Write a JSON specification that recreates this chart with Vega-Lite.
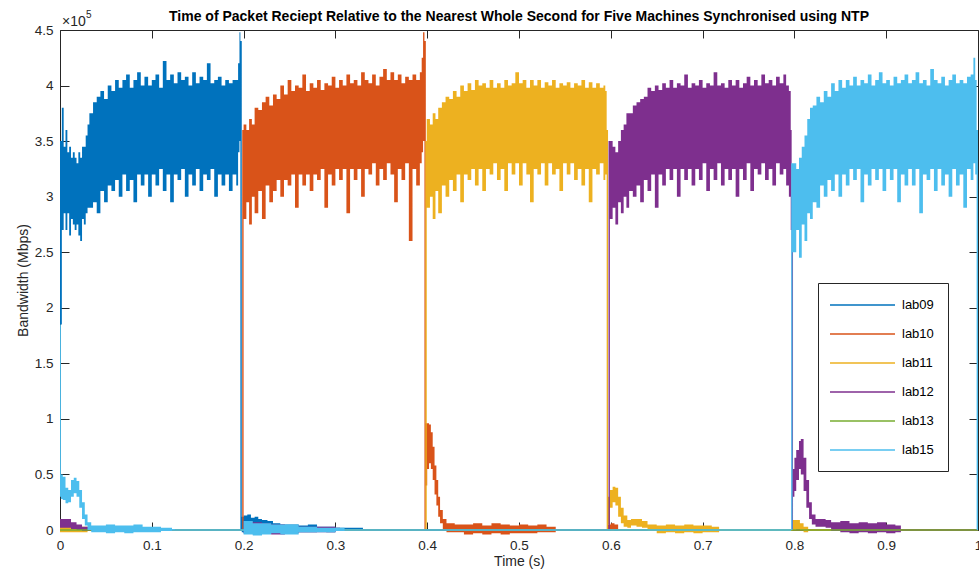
{
"$schema":"https://vega.github.io/schema/vega-lite/v6.json",
"width":918,"height":500,
"autosize":{"type":"none"},
"padding":{"left":60,"top":30,"right":1,"bottom":44},
"background":"white",
"title":{"text":"Time of Packet Reciept Relative to the Nearest Whole Second for Five Machines Synchronised using NTP","font":"Liberation Sans","fontSize":14,"fontWeight":"bold","color":"black","anchor":"middle","baseline":"alphabetic","offset":-25},
"config":{"view":{"stroke":null},"axis":{"domainColor":"#262626","tickColor":"#262626","labelColor":"#262626","titleColor":"#262626","labelFont":"Liberation Sans","titleFont":"Liberation Sans","labelFontSize":13.5,"titleFontSize":14,"titleFontWeight":"normal","grid":false,"domainWidth":1,"tickWidth":1}},
"data":{"values":[
{"m":"lab09","t":0,"lo":1.85,"hi":3.5},{"m":"lab09","t":0.002,"lo":2.7,"hi":3.8},{"m":"lab09","t":0.004,"lo":2.85,"hi":3.45},{"m":"lab09","t":0.006,"lo":2.7,"hi":3.6},{"m":"lab09","t":0.008,"lo":2.85,"hi":3.4},{"m":"lab09","t":0.01,"lo":2.65,"hi":3.45},{"m":"lab09","t":0.012,"lo":2.8,"hi":3.35},{"m":"lab09","t":0.014,"lo":2.75,"hi":3.4},{"m":"lab09","t":0.016,"lo":2.7,"hi":3.35},{"m":"lab09","t":0.018,"lo":2.75,"hi":3.3},{"m":"lab09","t":0.02,"lo":2.65,"hi":3.4},{"m":"lab09","t":0.022,"lo":2.6,"hi":3.35},{"m":"lab09","t":0.024,"lo":2.8,"hi":3.45},{"m":"lab09","t":0.026,"lo":2.75,"hi":3.45},{"m":"lab09","t":0.028,"lo":2.85,"hi":3.55},{"m":"lab09","t":0.03,"lo":2.9,"hi":3.65},{"m":"lab09","t":0.032,"lo":2.9,"hi":3.75},{"m":"lab09","t":0.036,"lo":2.95,"hi":3.85},{"m":"lab09","t":0.04,"lo":2.85,"hi":3.9},{"m":"lab09","t":0.044,"lo":3.05,"hi":3.95},{"m":"lab09","t":0.048,"lo":2.95,"hi":3.88},{"m":"lab09","t":0.052,"lo":3.1,"hi":4.0},{"m":"lab09","t":0.056,"lo":3.05,"hi":3.95},{"m":"lab09","t":0.06,"lo":3.15,"hi":4.05},{"m":"lab09","t":0.064,"lo":3.0,"hi":3.98},{"m":"lab09","t":0.068,"lo":3.2,"hi":4.05},{"m":"lab09","t":0.072,"lo":3.05,"hi":4.1},{"m":"lab09","t":0.076,"lo":3.15,"hi":3.98},{"m":"lab09","t":0.08,"lo":2.95,"hi":4.05},{"m":"lab09","t":0.084,"lo":3.2,"hi":4.12},{"m":"lab09","t":0.088,"lo":3.1,"hi":4.0},{"m":"lab09","t":0.092,"lo":3.2,"hi":4.08},{"m":"lab09","t":0.096,"lo":3.0,"hi":4.0},{"m":"lab09","t":0.1,"lo":3.2,"hi":4.05},{"m":"lab09","t":0.104,"lo":3.1,"hi":4.1},{"m":"lab09","t":0.108,"lo":3.25,"hi":3.98},{"m":"lab09","t":0.112,"lo":3.05,"hi":4.22},{"m":"lab09","t":0.116,"lo":3.2,"hi":4.05},{"m":"lab09","t":0.12,"lo":2.95,"hi":4.1},{"m":"lab09","t":0.124,"lo":3.2,"hi":4.02},{"m":"lab09","t":0.128,"lo":3.15,"hi":4.12},{"m":"lab09","t":0.132,"lo":3.25,"hi":4.05},{"m":"lab09","t":0.136,"lo":3.0,"hi":4.08},{"m":"lab09","t":0.14,"lo":3.2,"hi":4.0},{"m":"lab09","t":0.144,"lo":3.1,"hi":4.12},{"m":"lab09","t":0.148,"lo":3.25,"hi":4.02},{"m":"lab09","t":0.152,"lo":3.05,"hi":4.08},{"m":"lab09","t":0.156,"lo":3.2,"hi":4.05},{"m":"lab09","t":0.16,"lo":3.15,"hi":4.2},{"m":"lab09","t":0.164,"lo":3.25,"hi":4.02},{"m":"lab09","t":0.168,"lo":3.0,"hi":4.05},{"m":"lab09","t":0.172,"lo":3.2,"hi":4.08},{"m":"lab09","t":0.176,"lo":3.1,"hi":4.0},{"m":"lab09","t":0.18,"lo":3.2,"hi":4.05},{"m":"lab09","t":0.184,"lo":3.05,"hi":4.02},{"m":"lab09","t":0.188,"lo":3.2,"hi":4.05},{"m":"lab09","t":0.192,"lo":3.1,"hi":4.05},{"m":"lab09","t":0.194,"lo":3.4,"hi":4.2},{"m":"lab09","t":0.1955,"lo":3.5,"hi":4.48},{"m":"lab09","t":0.1965,"lo":0,"hi":4.4},{"m":"lab09","t":0.198,"lo":-0.02,"hi":0.12},{"m":"lab09","t":0.2,"lo":-0.03,"hi":0.13},{"m":"lab09","t":0.204,"lo":-0.02,"hi":0.14},{"m":"lab09","t":0.208,"lo":-0.03,"hi":0.11},{"m":"lab09","t":0.212,"lo":-0.02,"hi":0.12},{"m":"lab09","t":0.216,"lo":-0.03,"hi":0.1},{"m":"lab09","t":0.22,"lo":-0.02,"hi":0.09},{"m":"lab09","t":0.226,"lo":-0.03,"hi":0.08},{"m":"lab09","t":0.232,"lo":-0.02,"hi":0.06},{"m":"lab09","t":0.24,"lo":-0.03,"hi":0.05},{"m":"lab09","t":0.25,"lo":-0.02,"hi":0.05},{"m":"lab09","t":0.26,"lo":-0.02,"hi":0.04},{"m":"lab09","t":0.27,"lo":-0.02,"hi":0.05},{"m":"lab09","t":0.28,"lo":-0.01,"hi":0.03},{"m":"lab09","t":0.29,"lo":-0.02,"hi":0.03},{"m":"lab09","t":0.3,"lo":-0.01,"hi":0.02},{"m":"lab09","t":0.315,"lo":-0.01,"hi":0.02},{"m":"lab09","t":0.33,"lo":-0.006,"hi":0.006},{"m":"lab09","t":1,"lo":-0.006,"hi":0.006},
{"m":"lab10","t":0,"lo":-0.006,"hi":0.006},{"m":"lab10","t":0.1985,"lo":0,"hi":3.6},{"m":"lab10","t":0.2,"lo":2.8,"hi":3.65},{"m":"lab10","t":0.203,"lo":2.95,"hi":3.6},{"m":"lab10","t":0.206,"lo":2.75,"hi":3.7},{"m":"lab10","t":0.209,"lo":3.0,"hi":3.65},{"m":"lab10","t":0.212,"lo":2.85,"hi":3.8},{"m":"lab10","t":0.216,"lo":3.05,"hi":3.78},{"m":"lab10","t":0.22,"lo":2.8,"hi":3.85},{"m":"lab10","t":0.224,"lo":3.1,"hi":3.9},{"m":"lab10","t":0.228,"lo":2.95,"hi":3.82},{"m":"lab10","t":0.232,"lo":3.05,"hi":3.92},{"m":"lab10","t":0.236,"lo":3.15,"hi":3.88},{"m":"lab10","t":0.24,"lo":3.0,"hi":4.0},{"m":"lab10","t":0.244,"lo":3.15,"hi":3.92},{"m":"lab10","t":0.248,"lo":3.1,"hi":4.05},{"m":"lab10","t":0.252,"lo":3.2,"hi":3.95},{"m":"lab10","t":0.256,"lo":2.9,"hi":4.0},{"m":"lab10","t":0.26,"lo":3.2,"hi":3.98},{"m":"lab10","t":0.264,"lo":3.1,"hi":4.1},{"m":"lab10","t":0.268,"lo":3.2,"hi":3.95},{"m":"lab10","t":0.272,"lo":3.05,"hi":4.02},{"m":"lab10","t":0.276,"lo":3.2,"hi":3.98},{"m":"lab10","t":0.28,"lo":3.15,"hi":4.05},{"m":"lab10","t":0.284,"lo":3.25,"hi":3.96},{"m":"lab10","t":0.288,"lo":2.9,"hi":4.02},{"m":"lab10","t":0.292,"lo":3.2,"hi":4.0},{"m":"lab10","t":0.296,"lo":3.1,"hi":4.08},{"m":"lab10","t":0.3,"lo":3.25,"hi":3.98},{"m":"lab10","t":0.304,"lo":3.15,"hi":4.05},{"m":"lab10","t":0.308,"lo":3.25,"hi":4.0},{"m":"lab10","t":0.312,"lo":2.85,"hi":4.1},{"m":"lab10","t":0.316,"lo":3.25,"hi":4.02},{"m":"lab10","t":0.32,"lo":3.15,"hi":4.05},{"m":"lab10","t":0.324,"lo":3.25,"hi":4.0},{"m":"lab10","t":0.328,"lo":3.0,"hi":4.12},{"m":"lab10","t":0.332,"lo":3.25,"hi":4.05},{"m":"lab10","t":0.336,"lo":3.2,"hi":4.02},{"m":"lab10","t":0.34,"lo":3.3,"hi":4.1},{"m":"lab10","t":0.344,"lo":3.1,"hi":4.0},{"m":"lab10","t":0.348,"lo":3.25,"hi":4.08},{"m":"lab10","t":0.352,"lo":3.15,"hi":4.15},{"m":"lab10","t":0.356,"lo":3.3,"hi":4.05},{"m":"lab10","t":0.36,"lo":3.2,"hi":4.12},{"m":"lab10","t":0.364,"lo":2.95,"hi":4.05},{"m":"lab10","t":0.368,"lo":3.25,"hi":4.1},{"m":"lab10","t":0.372,"lo":3.15,"hi":4.02},{"m":"lab10","t":0.376,"lo":3.3,"hi":4.08},{"m":"lab10","t":0.38,"lo":2.6,"hi":4.05},{"m":"lab10","t":0.384,"lo":3.25,"hi":4.1},{"m":"lab10","t":0.388,"lo":3.1,"hi":4.05},{"m":"lab10","t":0.392,"lo":3.3,"hi":4.12},{"m":"lab10","t":0.394,"lo":3.4,"hi":4.25},{"m":"lab10","t":0.3955,"lo":3.5,"hi":4.48},{"m":"lab10","t":0.397,"lo":0,"hi":4.4},{"m":"lab10","t":0.3985,"lo":0.4,"hi":0.96},{"m":"lab10","t":0.4,"lo":0.55,"hi":0.96},{"m":"lab10","t":0.402,"lo":0.6,"hi":0.95},{"m":"lab10","t":0.404,"lo":0.55,"hi":0.88},{"m":"lab10","t":0.406,"lo":0.45,"hi":0.75},{"m":"lab10","t":0.408,"lo":0.32,"hi":0.58},{"m":"lab10","t":0.41,"lo":0.22,"hi":0.45},{"m":"lab10","t":0.412,"lo":0.12,"hi":0.3},{"m":"lab10","t":0.414,"lo":0.06,"hi":0.18},{"m":"lab10","t":0.417,"lo":0.0,"hi":0.1},{"m":"lab10","t":0.421,"lo":-0.02,"hi":0.06},{"m":"lab10","t":0.43,"lo":-0.02,"hi":0.05},{"m":"lab10","t":0.44,"lo":-0.04,"hi":0.05},{"m":"lab10","t":0.45,"lo":-0.03,"hi":0.06},{"m":"lab10","t":0.46,"lo":-0.04,"hi":0.04},{"m":"lab10","t":0.47,"lo":-0.03,"hi":0.06},{"m":"lab10","t":0.48,"lo":-0.04,"hi":0.05},{"m":"lab10","t":0.49,"lo":-0.03,"hi":0.04},{"m":"lab10","t":0.5,"lo":-0.03,"hi":0.05},{"m":"lab10","t":0.51,"lo":-0.03,"hi":0.04},{"m":"lab10","t":0.52,"lo":-0.02,"hi":0.05},{"m":"lab10","t":0.53,"lo":-0.02,"hi":0.03},{"m":"lab10","t":0.54,"lo":-0.006,"hi":0.006},{"m":"lab10","t":0.597,"lo":0,"hi":0.05},{"m":"lab10","t":0.6,"lo":-0.01,"hi":0.06},{"m":"lab10","t":0.604,"lo":0,"hi":0.05},{"m":"lab10","t":0.608,"lo":-0.006,"hi":0.006},{"m":"lab10","t":1,"lo":-0.006,"hi":0.006},
{"m":"lab11","t":0,"lo":-0.02,"hi":0.03},{"m":"lab11","t":0.015,"lo":-0.02,"hi":0.03},{"m":"lab11","t":0.03,"lo":-0.006,"hi":0.006},{"m":"lab11","t":0.398,"lo":0,"hi":3.5},{"m":"lab11","t":0.3995,"lo":2.9,"hi":3.7},{"m":"lab11","t":0.403,"lo":3.0,"hi":3.65},{"m":"lab11","t":0.406,"lo":2.8,"hi":3.75},{"m":"lab11","t":0.409,"lo":3.05,"hi":3.7},{"m":"lab11","t":0.412,"lo":2.85,"hi":3.8},{"m":"lab11","t":0.416,"lo":3.1,"hi":3.85},{"m":"lab11","t":0.42,"lo":3.0,"hi":3.9},{"m":"lab11","t":0.424,"lo":3.15,"hi":3.88},{"m":"lab11","t":0.428,"lo":3.05,"hi":3.95},{"m":"lab11","t":0.432,"lo":3.2,"hi":3.9},{"m":"lab11","t":0.436,"lo":2.95,"hi":4.0},{"m":"lab11","t":0.44,"lo":3.2,"hi":3.95},{"m":"lab11","t":0.444,"lo":3.15,"hi":4.02},{"m":"lab11","t":0.448,"lo":3.25,"hi":3.96},{"m":"lab11","t":0.452,"lo":3.1,"hi":4.05},{"m":"lab11","t":0.456,"lo":3.25,"hi":4.0},{"m":"lab11","t":0.46,"lo":3.05,"hi":4.02},{"m":"lab11","t":0.464,"lo":3.25,"hi":3.98},{"m":"lab11","t":0.468,"lo":3.2,"hi":4.05},{"m":"lab11","t":0.472,"lo":3.3,"hi":3.98},{"m":"lab11","t":0.476,"lo":3.15,"hi":4.02},{"m":"lab11","t":0.48,"lo":3.25,"hi":3.98},{"m":"lab11","t":0.484,"lo":3.05,"hi":4.05},{"m":"lab11","t":0.488,"lo":3.3,"hi":4.0},{"m":"lab11","t":0.492,"lo":3.2,"hi":4.02},{"m":"lab11","t":0.496,"lo":3.3,"hi":4.12},{"m":"lab11","t":0.5,"lo":3.1,"hi":4.02},{"m":"lab11","t":0.504,"lo":3.3,"hi":4.05},{"m":"lab11","t":0.508,"lo":3.2,"hi":3.98},{"m":"lab11","t":0.512,"lo":2.95,"hi":4.05},{"m":"lab11","t":0.516,"lo":3.25,"hi":4.0},{"m":"lab11","t":0.52,"lo":3.2,"hi":4.05},{"m":"lab11","t":0.524,"lo":3.3,"hi":3.98},{"m":"lab11","t":0.528,"lo":3.1,"hi":4.03},{"m":"lab11","t":0.532,"lo":3.3,"hi":4.0},{"m":"lab11","t":0.536,"lo":3.2,"hi":4.05},{"m":"lab11","t":0.54,"lo":3.25,"hi":3.98},{"m":"lab11","t":0.544,"lo":3.05,"hi":4.02},{"m":"lab11","t":0.548,"lo":3.3,"hi":4.0},{"m":"lab11","t":0.552,"lo":3.2,"hi":4.03},{"m":"lab11","t":0.556,"lo":3.3,"hi":3.98},{"m":"lab11","t":0.56,"lo":3.15,"hi":4.02},{"m":"lab11","t":0.564,"lo":3.25,"hi":4.0},{"m":"lab11","t":0.568,"lo":3.1,"hi":4.05},{"m":"lab11","t":0.572,"lo":3.25,"hi":3.98},{"m":"lab11","t":0.576,"lo":2.95,"hi":4.03},{"m":"lab11","t":0.58,"lo":3.25,"hi":3.98},{"m":"lab11","t":0.584,"lo":3.2,"hi":4.02},{"m":"lab11","t":0.588,"lo":3.3,"hi":3.98},{"m":"lab11","t":0.592,"lo":3.15,"hi":4.0},{"m":"lab11","t":0.594,"lo":3.2,"hi":3.95},{"m":"lab11","t":0.5955,"lo":0,"hi":3.6},{"m":"lab11","t":0.597,"lo":0.05,"hi":0.3},{"m":"lab11","t":0.599,"lo":0.2,"hi":0.36},{"m":"lab11","t":0.602,"lo":0.25,"hi":0.39},{"m":"lab11","t":0.605,"lo":0.22,"hi":0.38},{"m":"lab11","t":0.608,"lo":0.12,"hi":0.3},{"m":"lab11","t":0.611,"lo":0.06,"hi":0.2},{"m":"lab11","t":0.614,"lo":0.03,"hi":0.13},{"m":"lab11","t":0.618,"lo":0.02,"hi":0.09},{"m":"lab11","t":0.622,"lo":0.04,"hi":0.1},{"m":"lab11","t":0.628,"lo":0.03,"hi":0.1},{"m":"lab11","t":0.634,"lo":0.02,"hi":0.08},{"m":"lab11","t":0.64,"lo":-0.01,"hi":0.05},{"m":"lab11","t":0.65,"lo":-0.03,"hi":0.04},{"m":"lab11","t":0.66,"lo":-0.02,"hi":0.05},{"m":"lab11","t":0.67,"lo":-0.03,"hi":0.04},{"m":"lab11","t":0.68,"lo":-0.02,"hi":0.05},{"m":"lab11","t":0.69,"lo":-0.03,"hi":0.04},{"m":"lab11","t":0.7,"lo":-0.02,"hi":0.04},{"m":"lab11","t":0.71,"lo":-0.02,"hi":0.03},{"m":"lab11","t":0.718,"lo":-0.006,"hi":0.006},{"m":"lab11","t":0.798,"lo":0,"hi":0.09},{"m":"lab11","t":0.802,"lo":0.01,"hi":0.09},{"m":"lab11","t":0.806,"lo":0,"hi":0.06},{"m":"lab11","t":0.81,"lo":-0.02,"hi":0.03},{"m":"lab11","t":0.815,"lo":-0.006,"hi":0.006},{"m":"lab11","t":1,"lo":-0.006,"hi":0.006},
{"m":"lab12","t":0,"lo":0.02,"hi":0.1},{"m":"lab12","t":0.006,"lo":0.02,"hi":0.1},{"m":"lab12","t":0.012,"lo":0.01,"hi":0.07},{"m":"lab12","t":0.018,"lo":0,"hi":0.05},{"m":"lab12","t":0.024,"lo":-0.01,"hi":0.03},{"m":"lab12","t":0.032,"lo":-0.006,"hi":0.006},{"m":"lab12","t":0.2,"lo":-0.03,"hi":0.08},{"m":"lab12","t":0.21,"lo":-0.04,"hi":0.07},{"m":"lab12","t":0.22,"lo":-0.03,"hi":0.06},{"m":"lab12","t":0.23,"lo":-0.04,"hi":0.05},{"m":"lab12","t":0.245,"lo":-0.03,"hi":0.04},{"m":"lab12","t":0.26,"lo":-0.02,"hi":0.03},{"m":"lab12","t":0.28,"lo":-0.02,"hi":0.03},{"m":"lab12","t":0.3,"lo":-0.01,"hi":0.02},{"m":"lab12","t":0.305,"lo":-0.006,"hi":0.006},{"m":"lab12","t":0.5975,"lo":0,"hi":3.5},{"m":"lab12","t":0.599,"lo":2.8,"hi":3.5},{"m":"lab12","t":0.602,"lo":2.9,"hi":3.45},{"m":"lab12","t":0.605,"lo":2.75,"hi":3.4},{"m":"lab12","t":0.608,"lo":2.95,"hi":3.5},{"m":"lab12","t":0.611,"lo":2.85,"hi":3.6},{"m":"lab12","t":0.614,"lo":3.0,"hi":3.65},{"m":"lab12","t":0.617,"lo":2.9,"hi":3.75},{"m":"lab12","t":0.62,"lo":3.05,"hi":3.75},{"m":"lab12","t":0.624,"lo":3.0,"hi":3.82},{"m":"lab12","t":0.628,"lo":3.1,"hi":3.85},{"m":"lab12","t":0.632,"lo":2.95,"hi":3.88},{"m":"lab12","t":0.636,"lo":3.15,"hi":3.9},{"m":"lab12","t":0.64,"lo":3.05,"hi":3.98},{"m":"lab12","t":0.644,"lo":3.2,"hi":3.95},{"m":"lab12","t":0.648,"lo":2.9,"hi":4.0},{"m":"lab12","t":0.652,"lo":3.2,"hi":3.96},{"m":"lab12","t":0.656,"lo":3.1,"hi":4.02},{"m":"lab12","t":0.66,"lo":3.25,"hi":3.98},{"m":"lab12","t":0.664,"lo":3.15,"hi":4.05},{"m":"lab12","t":0.668,"lo":3.25,"hi":3.98},{"m":"lab12","t":0.672,"lo":3.0,"hi":4.02},{"m":"lab12","t":0.676,"lo":3.25,"hi":4.0},{"m":"lab12","t":0.68,"lo":3.15,"hi":4.1},{"m":"lab12","t":0.684,"lo":3.25,"hi":3.98},{"m":"lab12","t":0.688,"lo":3.1,"hi":4.02},{"m":"lab12","t":0.692,"lo":3.25,"hi":4.0},{"m":"lab12","t":0.696,"lo":3.15,"hi":4.05},{"m":"lab12","t":0.7,"lo":3.3,"hi":3.98},{"m":"lab12","t":0.704,"lo":3.05,"hi":4.02},{"m":"lab12","t":0.708,"lo":3.25,"hi":4.0},{"m":"lab12","t":0.712,"lo":3.15,"hi":4.12},{"m":"lab12","t":0.716,"lo":3.3,"hi":4.0},{"m":"lab12","t":0.72,"lo":3.1,"hi":4.02},{"m":"lab12","t":0.724,"lo":3.25,"hi":3.98},{"m":"lab12","t":0.728,"lo":3.15,"hi":4.05},{"m":"lab12","t":0.732,"lo":3.25,"hi":4.0},{"m":"lab12","t":0.736,"lo":3.0,"hi":4.05},{"m":"lab12","t":0.74,"lo":3.25,"hi":3.98},{"m":"lab12","t":0.744,"lo":3.15,"hi":4.02},{"m":"lab12","t":0.748,"lo":3.3,"hi":4.08},{"m":"lab12","t":0.752,"lo":3.05,"hi":4.0},{"m":"lab12","t":0.756,"lo":3.25,"hi":4.05},{"m":"lab12","t":0.76,"lo":3.2,"hi":4.0},{"m":"lab12","t":0.764,"lo":3.3,"hi":4.1},{"m":"lab12","t":0.768,"lo":3.15,"hi":4.02},{"m":"lab12","t":0.772,"lo":3.25,"hi":4.05},{"m":"lab12","t":0.776,"lo":3.1,"hi":4.0},{"m":"lab12","t":0.78,"lo":3.3,"hi":4.08},{"m":"lab12","t":0.784,"lo":3.2,"hi":4.02},{"m":"lab12","t":0.788,"lo":3.25,"hi":4.1},{"m":"lab12","t":0.791,"lo":3.1,"hi":4.0},{"m":"lab12","t":0.794,"lo":3.0,"hi":3.95},{"m":"lab12","t":0.796,"lo":2.7,"hi":3.6},{"m":"lab12","t":0.797,"lo":0,"hi":3.0},{"m":"lab12","t":0.7985,"lo":0.3,"hi":0.55},{"m":"lab12","t":0.8,"lo":0.35,"hi":0.65},{"m":"lab12","t":0.802,"lo":0.45,"hi":0.72},{"m":"lab12","t":0.805,"lo":0.55,"hi":0.8},{"m":"lab12","t":0.807,"lo":0.5,"hi":0.82},{"m":"lab12","t":0.81,"lo":0.35,"hi":0.65},{"m":"lab12","t":0.813,"lo":0.2,"hi":0.45},{"m":"lab12","t":0.816,"lo":0.1,"hi":0.25},{"m":"lab12","t":0.819,"lo":0.05,"hi":0.14},{"m":"lab12","t":0.823,"lo":0.03,"hi":0.1},{"m":"lab12","t":0.828,"lo":0.03,"hi":0.1},{"m":"lab12","t":0.834,"lo":0.02,"hi":0.09},{"m":"lab12","t":0.84,"lo":-0.01,"hi":0.07},{"m":"lab12","t":0.85,"lo":-0.02,"hi":0.08},{"m":"lab12","t":0.86,"lo":-0.03,"hi":0.06},{"m":"lab12","t":0.87,"lo":-0.02,"hi":0.07},{"m":"lab12","t":0.88,"lo":-0.03,"hi":0.06},{"m":"lab12","t":0.89,"lo":-0.02,"hi":0.07},{"m":"lab12","t":0.9,"lo":-0.03,"hi":0.05},{"m":"lab12","t":0.91,"lo":-0.02,"hi":0.04},{"m":"lab12","t":0.916,"lo":-0.006,"hi":0.006},{"m":"lab12","t":1,"lo":-0.006,"hi":0.006},
{"m":"lab13","t":0,"lo":-0.006,"hi":0.006},{"m":"lab13","t":1,"lo":-0.006,"hi":0.006},
{"m":"lab15","t":0,"lo":0.3,"hi":1.85},{"m":"lab15","t":0.001,"lo":0.28,"hi":0.5},{"m":"lab15","t":0.003,"lo":0.27,"hi":0.48},{"m":"lab15","t":0.006,"lo":0.24,"hi":0.38},{"m":"lab15","t":0.009,"lo":0.25,"hi":0.36},{"m":"lab15","t":0.012,"lo":0.3,"hi":0.45},{"m":"lab15","t":0.015,"lo":0.33,"hi":0.47},{"m":"lab15","t":0.018,"lo":0.3,"hi":0.44},{"m":"lab15","t":0.021,"lo":0.2,"hi":0.36},{"m":"lab15","t":0.024,"lo":0.1,"hi":0.25},{"m":"lab15","t":0.027,"lo":0.04,"hi":0.14},{"m":"lab15","t":0.03,"lo":0.0,"hi":0.07},{"m":"lab15","t":0.034,"lo":-0.02,"hi":0.04},{"m":"lab15","t":0.04,"lo":-0.02,"hi":0.04},{"m":"lab15","t":0.05,"lo":-0.03,"hi":0.05},{"m":"lab15","t":0.06,"lo":-0.02,"hi":0.04},{"m":"lab15","t":0.07,"lo":-0.03,"hi":0.04},{"m":"lab15","t":0.08,"lo":-0.02,"hi":0.05},{"m":"lab15","t":0.09,"lo":-0.02,"hi":0.03},{"m":"lab15","t":0.1,"lo":-0.02,"hi":0.03},{"m":"lab15","t":0.11,"lo":-0.01,"hi":0.02},{"m":"lab15","t":0.122,"lo":-0.006,"hi":0.01},{"m":"lab15","t":0.125,"lo":-0.006,"hi":0.006},{"m":"lab15","t":0.2,"lo":-0.04,"hi":0.08},{"m":"lab15","t":0.21,"lo":-0.05,"hi":0.06},{"m":"lab15","t":0.22,"lo":-0.04,"hi":0.06},{"m":"lab15","t":0.23,"lo":-0.03,"hi":0.05},{"m":"lab15","t":0.24,"lo":-0.04,"hi":0.05},{"m":"lab15","t":0.26,"lo":-0.02,"hi":0.03},{"m":"lab15","t":0.28,"lo":-0.02,"hi":0.02},{"m":"lab15","t":0.3,"lo":-0.01,"hi":0.02},{"m":"lab15","t":0.31,"lo":-0.006,"hi":0.006},{"m":"lab15","t":0.7965,"lo":0,"hi":3.3},{"m":"lab15","t":0.798,"lo":2.5,"hi":3.3},{"m":"lab15","t":0.802,"lo":2.7,"hi":3.25},{"m":"lab15","t":0.805,"lo":2.45,"hi":3.35},{"m":"lab15","t":0.808,"lo":2.75,"hi":3.45},{"m":"lab15","t":0.811,"lo":2.6,"hi":3.55},{"m":"lab15","t":0.814,"lo":2.85,"hi":3.7},{"m":"lab15","t":0.817,"lo":2.8,"hi":3.8},{"m":"lab15","t":0.82,"lo":2.95,"hi":3.82},{"m":"lab15","t":0.824,"lo":2.9,"hi":3.9},{"m":"lab15","t":0.828,"lo":3.1,"hi":3.85},{"m":"lab15","t":0.832,"lo":3.0,"hi":3.95},{"m":"lab15","t":0.836,"lo":3.15,"hi":3.9},{"m":"lab15","t":0.84,"lo":3.05,"hi":4.02},{"m":"lab15","t":0.844,"lo":3.2,"hi":3.95},{"m":"lab15","t":0.848,"lo":3.0,"hi":4.05},{"m":"lab15","t":0.852,"lo":3.2,"hi":3.98},{"m":"lab15","t":0.856,"lo":3.1,"hi":4.05},{"m":"lab15","t":0.86,"lo":3.25,"hi":4.0},{"m":"lab15","t":0.864,"lo":3.15,"hi":4.08},{"m":"lab15","t":0.868,"lo":3.25,"hi":4.0},{"m":"lab15","t":0.872,"lo":2.95,"hi":4.05},{"m":"lab15","t":0.876,"lo":3.2,"hi":4.02},{"m":"lab15","t":0.88,"lo":3.1,"hi":4.1},{"m":"lab15","t":0.884,"lo":3.25,"hi":4.0},{"m":"lab15","t":0.888,"lo":3.15,"hi":4.05},{"m":"lab15","t":0.892,"lo":3.25,"hi":4.12},{"m":"lab15","t":0.896,"lo":3.05,"hi":4.02},{"m":"lab15","t":0.9,"lo":3.25,"hi":4.05},{"m":"lab15","t":0.904,"lo":3.15,"hi":4.0},{"m":"lab15","t":0.908,"lo":3.25,"hi":4.08},{"m":"lab15","t":0.912,"lo":2.95,"hi":4.02},{"m":"lab15","t":0.916,"lo":3.2,"hi":4.05},{"m":"lab15","t":0.92,"lo":3.1,"hi":4.1},{"m":"lab15","t":0.924,"lo":3.25,"hi":4.02},{"m":"lab15","t":0.928,"lo":3.1,"hi":4.05},{"m":"lab15","t":0.932,"lo":3.25,"hi":4.12},{"m":"lab15","t":0.936,"lo":2.85,"hi":4.02},{"m":"lab15","t":0.94,"lo":3.2,"hi":4.05},{"m":"lab15","t":0.944,"lo":3.15,"hi":4.0},{"m":"lab15","t":0.948,"lo":3.25,"hi":4.15},{"m":"lab15","t":0.952,"lo":3.05,"hi":4.05},{"m":"lab15","t":0.956,"lo":3.25,"hi":4.02},{"m":"lab15","t":0.96,"lo":3.1,"hi":4.08},{"m":"lab15","t":0.964,"lo":3.2,"hi":4.0},{"m":"lab15","t":0.968,"lo":3.0,"hi":4.05},{"m":"lab15","t":0.972,"lo":3.25,"hi":4.1},{"m":"lab15","t":0.976,"lo":3.1,"hi":4.02},{"m":"lab15","t":0.98,"lo":3.2,"hi":4.05},{"m":"lab15","t":0.984,"lo":2.9,"hi":4.02},{"m":"lab15","t":0.988,"lo":3.25,"hi":4.08},{"m":"lab15","t":0.992,"lo":3.15,"hi":4.1},{"m":"lab15","t":0.995,"lo":3.3,"hi":4.25},{"m":"lab15","t":0.997,"lo":3.2,"hi":4.05},{"m":"lab15","t":0.9985,"lo":0,"hi":3.6},{"m":"lab15","t":1,"lo":0,"hi":3.6}
]},
"layer":[
{"mark":{"type":"area","interpolate":"step-after","fillOpacity":1},
 "encoding":{
  "x":{"field":"t","type":"quantitative","scale":{"domain":[0,1],"nice":false,"zero":false},"axis":{"orient":"bottom","values":[0,0.1,0.2,0.3,0.4,0.5,0.6,0.7,0.8,0.9,1],"format":"~g","tickSize":-8,"labelPadding":16,"labelFlush":false,"title":"Time (s)","titlePadding":3}},
  "y":{"field":"lo","type":"quantitative","stack":null,"scale":{"domain":[0,4.5],"nice":false},"axis":{"orient":"left","values":[0,0.5,1,1.5,2,2.5,3,3.5,4,4.5],"format":"~g","tickSize":-9,"labelPadding":16,"title":"Bandwidth (Mbps)","titlePadding":4}},
  "y2":{"field":"hi"},
  "color":{"field":"m","type":"nominal","scale":{"domain":["lab09","lab10","lab11","lab12","lab13","lab15"],"range":["#0072BD","#D95319","#EDB120","#7E2F8E","#77AC30","#4DBEEE"]},"legend":{"orient":"none","legendX":758,"legendY":253,"title":null,"strokeColor":"#262626","fillColor":"white","padding":14,"rowPadding":14,"labelFont":"Liberation Sans","labelFontSize":13,"labelColor":"black","labelOffset":54,"symbolType":"M-1.25,-0.1H6.875V0.1H-1.25Z","symbolSize":256,"symbolStrokeWidth":0,"symbolOpacity":1}}
 }},
{"data":{"values":[{}]},
 "mark":{"type":"text","text":"×10","align":"left","baseline":"alphabetic","dx":2,"dy":-4,"font":"Liberation Sans","fontSize":14,"color":"#262626"},
 "encoding":{
  "x":{"datum":0,"type":"quantitative","axis":{"orient":"top","values":[0,0.1,0.2,0.3,0.4,0.5,0.6,0.7,0.8,0.9,1],"labels":false,"tickSize":-8,"title":null,"minExtent":0,"maxExtent":0}},
  "y":{"datum":4.5,"type":"quantitative","axis":{"orient":"right","values":[0,0.5,1,1.5,2,2.5,3,3.5,4,4.5],"labels":false,"tickSize":-9,"title":null,"minExtent":0,"maxExtent":0}}}},
{"data":{"values":[{}]},
 "mark":{"type":"text","text":"5","align":"left","baseline":"alphabetic","dx":26,"dy":-12,"font":"Liberation Sans","fontSize":10,"color":"#262626"},
 "encoding":{
  "x":{"datum":0,"type":"quantitative","axis":null},
  "y":{"datum":4.5,"type":"quantitative","axis":null}}}
],
"resolve":{"axis":{"x":"independent","y":"independent"}}
}
